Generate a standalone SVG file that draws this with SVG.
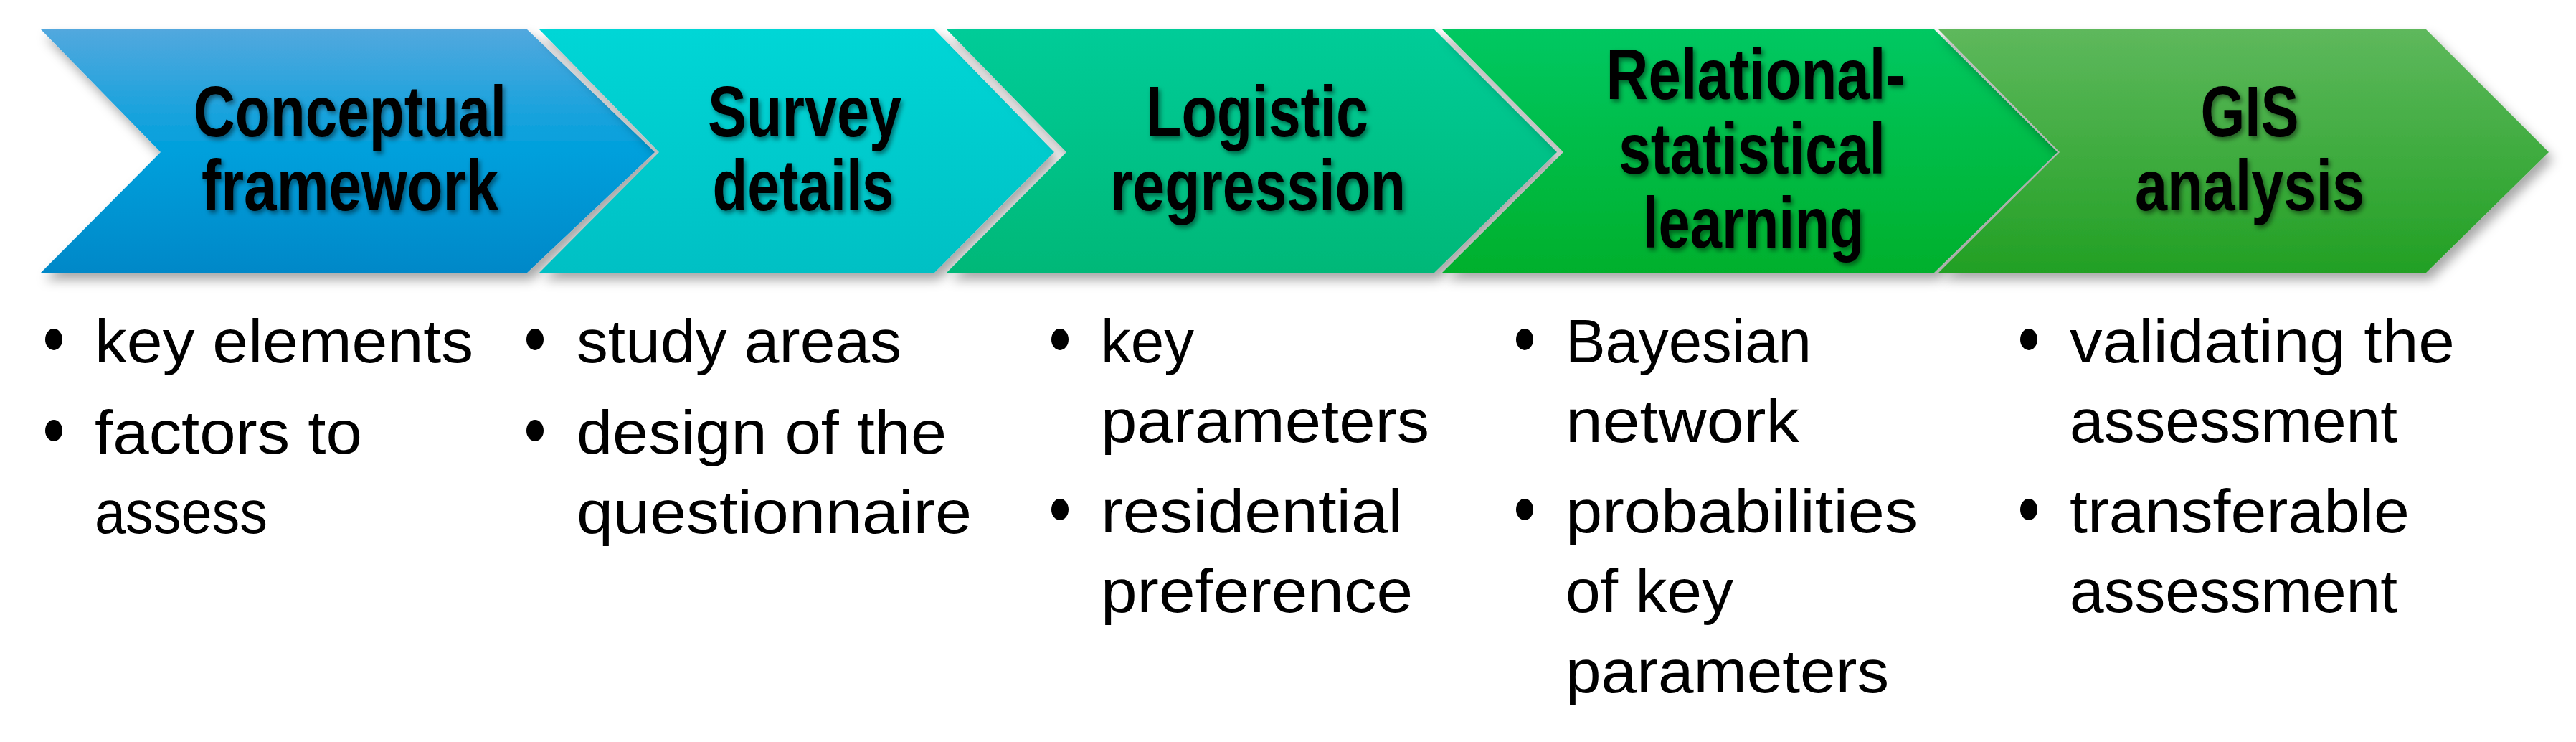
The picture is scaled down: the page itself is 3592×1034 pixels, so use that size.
<svg xmlns="http://www.w3.org/2000/svg" width="3592" height="1034" viewBox="0 0 3592 1034">
<style>
.t{font-family:"Liberation Sans",Arial,sans-serif;font-weight:bold;font-size:100px;fill:#000;text-anchor:middle;filter:url(#ts)}
.b{font-family:"Liberation Sans",Arial,sans-serif;font-size:86px;fill:#000}
.chev{filter:url(#cs)}
</style>
<defs>
<filter id="cs" x="-5%" y="-10%" width="115%" height="130%"><feDropShadow dx="6" dy="10" stdDeviation="8" flood-color="#000" flood-opacity="0.35"/></filter>
<filter id="ts" x="-10%" y="-20%" width="120%" height="150%"><feDropShadow dx="3" dy="4" stdDeviation="3" flood-color="#000" flood-opacity="0.45"/></filter>
<linearGradient id="g1" x1="0" y1="0" x2="0" y2="1"><stop offset="0" stop-color="#52a8de"/><stop offset="0.5" stop-color="#00a0dc"/><stop offset="1" stop-color="#0088c8"/></linearGradient>
<linearGradient id="g2" x1="0" y1="0" x2="0" y2="1"><stop offset="0" stop-color="#00d6d6"/><stop offset="1" stop-color="#00c0c4"/></linearGradient>
<linearGradient id="g3" x1="0" y1="0" x2="0" y2="1"><stop offset="0" stop-color="#00cc98"/><stop offset="1" stop-color="#00b878"/></linearGradient>
<linearGradient id="g4" x1="0" y1="0" x2="0" y2="1"><stop offset="0" stop-color="#00c862"/><stop offset="1" stop-color="#00b02c"/></linearGradient>
<linearGradient id="g5" x1="0" y1="0" x2="0" y2="1"><stop offset="0" stop-color="#5eb85c"/><stop offset="1" stop-color="#22a024"/></linearGradient>
</defs>
<rect width="3592" height="1034" fill="#fff"/>
<g id="node1">
<polygon class="chev" points="57,41 735,41 913,212 735,380 57,380 224,212" fill="url(#g1)"/>
<text class="t" x="488" y="190" textLength="436" lengthAdjust="spacingAndGlyphs">Conceptual</text>
<text class="t" x="488" y="293" textLength="414" lengthAdjust="spacingAndGlyphs">framework</text>
<ellipse cx="75" cy="473" rx="12" ry="15"/>
<text class="b" x="132" y="505" textLength="528" lengthAdjust="spacingAndGlyphs">key elements</text>
<ellipse cx="75" cy="600" rx="12" ry="15"/>
<text class="b" x="132" y="632" textLength="373" lengthAdjust="spacingAndGlyphs">factors to</text>
<text class="b" x="132" y="743" textLength="241" lengthAdjust="spacingAndGlyphs">assess</text>
</g>
<g id="node2">
<polygon class="chev" points="752,41 1303,41 1470,212 1303,380 752,380 919,212" fill="url(#g2)"/>
<text class="t" x="1122" y="190" textLength="270" lengthAdjust="spacingAndGlyphs">Survey</text>
<text class="t" x="1120" y="293" textLength="253" lengthAdjust="spacingAndGlyphs">details</text>
<ellipse cx="746" cy="473" rx="12" ry="15"/>
<text class="b" x="804" y="505" textLength="453" lengthAdjust="spacingAndGlyphs">study areas</text>
<ellipse cx="746" cy="600" rx="12" ry="15"/>
<text class="b" x="804" y="632" textLength="516" lengthAdjust="spacingAndGlyphs">design of the</text>
<text class="b" x="804" y="743" textLength="551" lengthAdjust="spacingAndGlyphs">questionnaire</text>
</g>
<g id="node3">
<polygon class="chev" points="1320,41 2000,41 2171,212 2000,380 1320,380 1487,212" fill="url(#g3)"/>
<text class="t" x="1753" y="190" textLength="310" lengthAdjust="spacingAndGlyphs">Logistic</text>
<text class="t" x="1754" y="293" textLength="412" lengthAdjust="spacingAndGlyphs">regression</text>
<ellipse cx="1478" cy="473" rx="12" ry="15"/>
<text class="b" x="1535" y="505" textLength="130" lengthAdjust="spacingAndGlyphs">key</text>
<text class="b" x="1535" y="616" textLength="458" lengthAdjust="spacingAndGlyphs">parameters</text>
<ellipse cx="1478" cy="710" rx="12" ry="15"/>
<text class="b" x="1535" y="742" textLength="421" lengthAdjust="spacingAndGlyphs">residential</text>
<text class="b" x="1535" y="853" textLength="435" lengthAdjust="spacingAndGlyphs">preference</text>
</g>
<g id="node4">
<polygon class="chev" points="2011,41 2697,41 2869,212 2697,380 2011,380 2180,212" fill="url(#g4)"/>
<text class="t" x="2448" y="138" textLength="417" lengthAdjust="spacingAndGlyphs">Relational-</text>
<text class="t" x="2443" y="242" textLength="372" lengthAdjust="spacingAndGlyphs">statistical</text>
<text class="t" x="2445" y="345" textLength="309" lengthAdjust="spacingAndGlyphs">learning</text>
<ellipse cx="2126" cy="473" rx="12" ry="15"/>
<text class="b" x="2183" y="505" textLength="343" lengthAdjust="spacingAndGlyphs">Bayesian</text>
<text class="b" x="2183" y="616" textLength="326" lengthAdjust="spacingAndGlyphs">network</text>
<ellipse cx="2126" cy="710" rx="12" ry="15"/>
<text class="b" x="2183" y="742" textLength="491" lengthAdjust="spacingAndGlyphs">probabilities</text>
<text class="b" x="2183" y="853" textLength="234" lengthAdjust="spacingAndGlyphs">of key</text>
<text class="b" x="2183" y="965" textLength="451" lengthAdjust="spacingAndGlyphs">parameters</text>
</g>
<g id="node5">
<polygon class="chev" points="2703,41 3383,41 3554,212 3383,380 2703,380 2872,212" fill="url(#g5)"/>
<text class="t" x="3137" y="190" textLength="137" lengthAdjust="spacingAndGlyphs">GIS</text>
<text class="t" x="3137" y="293" textLength="320" lengthAdjust="spacingAndGlyphs">analysis</text>
<ellipse cx="2829" cy="473" rx="12" ry="15"/>
<text class="b" x="2886" y="505" textLength="537" lengthAdjust="spacingAndGlyphs">validating the</text>
<text class="b" x="2886" y="616" textLength="457" lengthAdjust="spacingAndGlyphs">assessment</text>
<ellipse cx="2829" cy="710" rx="12" ry="15"/>
<text class="b" x="2886" y="742" textLength="474" lengthAdjust="spacingAndGlyphs">transferable</text>
<text class="b" x="2886" y="853" textLength="457" lengthAdjust="spacingAndGlyphs">assessment</text>
</g>
<g id="connectors"/>
</svg>
